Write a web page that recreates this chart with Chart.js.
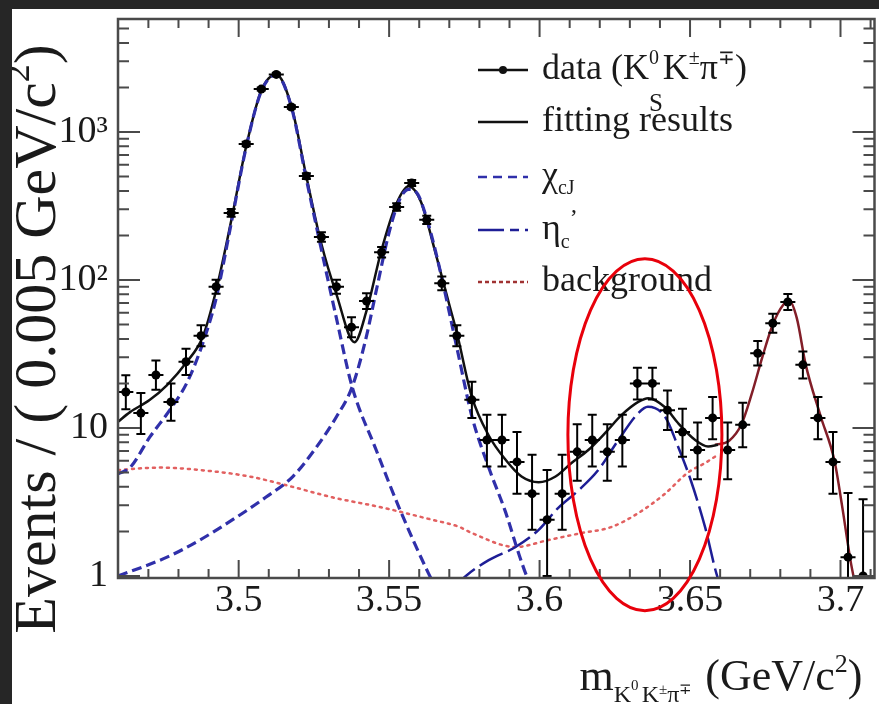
<!DOCTYPE html>
<html>
<head>
<meta charset="utf-8">
<script src="https://cdn.jsdelivr.net/npm/chart.js@4.4.0/dist/chart.umd.min.js"></script>
<style>
  html, body { margin: 0; padding: 0; background: #262626; }
  #wrap { position: absolute; left: 12px; top: 9px; width: 867px; height: 695px; background: #fff; }
</style>
</head>
<body>
<div id="wrap"><canvas id="massChart"></canvas></div>
<script>
const serif = '"Liberation Serif", "Times New Roman", serif';

// ticks
const xTickValues = [3.5, 3.55, 3.6, 3.65, 3.7];
const xTickLabels = ['3.5', '3.55', '3.6', '3.65', '3.7'];
const yTickValues = [1, 10, 100, 1000];
const yTickLabels = ['1', '10', '10²', '10³'];

// data, bins of 0.005 GeV
const binCenters = [3.4625, 3.4675, 3.4725, 3.4775, 3.4825, 3.4875, 3.4925, 3.4975, 3.5025, 3.5075,
  3.5125, 3.5175, 3.5225, 3.5275, 3.5325, 3.5375, 3.5425, 3.5475, 3.5525, 3.5575,
  3.5625, 3.5675, 3.5725, 3.5775, 3.5825, 3.5875, 3.5925, 3.5975, 3.6025, 3.6075,
  3.6125, 3.6175, 3.6225, 3.6275, 3.6325, 3.6375, 3.6425, 3.6475, 3.6525, 3.6575,
  3.6625, 3.6675, 3.6725, 3.6775, 3.6825, 3.6875, 3.6925, 3.6975, 3.7025, 3.7075];
const counts = [17.5, 12.6, 22.8, 15, 28, 42, 90, 284, 830, 1950,
  2450, 1475, 504, 195, 90, 48, 72, 154, 311, 452,
  255, 95, 42, 15.5, 8.3, 8.3, 5.9, 3.6, 2.4, 3.6,
  6.9, 8.3, 6.9, 8.3, 20, 20, 13.2, 9.4, 7.1, 11.7,
  7.1, 10.5, 32, 51, 71, 26.7, 11.7, 5.9, 1.34, 1.0];
const errUp = [5.2, 4.6, 5.8, 5.0, 6.3, 7.5, 10.5, 18, 30, 45,
  51, 39, 23, 15, 10.5, 8, 9.5, 13, 19, 22,
  17, 10.7, 7.5, 5.0, 4.0, 4.0, 3.5, 3.0, 2.8, 3.0,
  3.7, 4.0, 3.7, 4.0, 5.5, 5.5, 4.7, 4.1, 3.8, 4.5,
  3.8, 4.3, 6.7, 8.1, 9.4, 6.2, 4.5, 3.5, 2.3, 2.3];
const errDown = [4.1, 3.5, 4.7, 3.8, 5.2, 6.4, 9.4, 17, 29, 44,
  49, 38, 22, 14, 9.4, 6.9, 8.4, 12, 17, 21,
  16, 9.6, 6.4, 3.8, 2.8, 2.8, 2.3, 1.55, 1.4, 1.55,
  2.5, 2.8, 2.5, 2.8, 4.4, 4.4, 3.5, 3.0, 2.6, 3.3,
  2.6, 3.1, 5.6, 7.0, 8.3, 5.1, 3.3, 2.3, 0.9, 0.8];
const binHalf = 0.0025;

// fitting results
const fitX = [3.4599, 3.4639, 3.4705, 3.4762, 3.4828, 3.488, 3.4925, 3.4975, 3.5025, 3.5075,
  3.5125, 3.5175, 3.5225, 3.5275, 3.5325, 3.5385, 3.5425, 3.5475, 3.5525, 3.5565,
  3.5605, 3.5655, 3.570, 3.5725, 3.5775, 3.5831, 3.5887, 3.594, 3.5997, 3.6053,
  3.6106, 3.6162, 3.6219, 3.6272, 3.6328, 3.6361, 3.6417, 3.646, 3.6517, 3.656, 3.6593];
const fitY = [11, 12.8, 15.5, 19.5, 28, 41, 85, 250, 800, 1900,
  2450, 1500, 500, 175, 80, 38, 62, 160, 330, 430,
  340, 150, 68, 44, 16.2, 8.9, 6.1, 4.7, 4.3, 4.7,
  5.8, 7.1, 9.3, 12.2, 15, 15.9, 13.8, 10.8, 8.3, 7.5, 7.7];

// chi_c1 and chi_c2
const chiC1X = [3.4599, 3.4639, 3.4705, 3.4772, 3.4828, 3.488, 3.4925, 3.4975, 3.5025, 3.5075,
  3.5125, 3.5175, 3.5225, 3.5275, 3.5325, 3.5377, 3.5457, 3.5533, 3.563, 3.566];
const chiC1Y = [4.9, 5.4, 8.7, 13.3, 20.2, 37, 75, 240, 790, 1880,
  2430, 1480, 480, 160, 55, 19, 7.1, 2.9, 1.05, 0.8];
const chiC2X = [3.4599, 3.4762, 3.4871, 3.498, 3.509, 3.518, 3.5258, 3.5325, 3.5377, 3.542,
  3.546, 3.55, 3.5535, 3.5565, 3.5595, 3.5625, 3.566, 3.5725, 3.5775, 3.5831,
  3.5887, 3.593, 3.5957, 3.598];
const chiC2Y = [1.0, 1.34, 1.75, 2.4, 3.4, 4.7, 7.4, 11.9, 18.9, 38,
  90, 210, 350, 410, 380, 260, 140, 35, 12, 5.4,
  2.7, 1.43, 1.0, 0.8];

// eta_c'
const etaX = [3.572, 3.5755, 3.5831, 3.592, 3.5997, 3.6063, 3.613, 3.6195, 3.6262, 3.6328,
  3.636, 3.6417, 3.646, 3.6503, 3.655, 3.659, 3.661];
const etaY = [0.85, 1, 1.28, 1.57, 2.05, 2.9, 3.8, 5.2, 8.3, 12.6,
  13.9, 11.9, 7.5, 4.4, 2.14, 1, 0.8];

// background
const bkgX = [3.4599, 3.4738, 3.4871, 3.5036, 3.5179, 3.5311, 3.5477, 3.5642, 3.5732, 3.5775,
  3.592, 3.603, 3.6139, 3.6238, 3.6328, 3.6417, 3.6493, 3.655, 3.6583];
const bkgY = [5.2, 5.4, 5.2, 4.7, 4.0, 3.4, 2.9, 2.4, 2.15, 1.95,
  1.57, 1.75, 1.95, 2.14, 2.66, 3.6, 5.0, 5.8, 6.4];

// psi(3686) region of the fit
const psiX = [3.6583, 3.663, 3.667, 3.6705, 3.674, 3.6775, 3.681, 3.683, 3.6855, 3.6884,
  3.6934, 3.698, 3.7005, 3.7033, 3.705];
const psiY = [7.7, 8.2, 10.5, 17, 30, 50, 68, 72, 55, 27,
  12, 6, 3, 1.28, 0.85];

const ellipseCenter = { x: 3.635, y: 9 };

const axisColor = '#4a4a4a';
const chiColor = 'rgb(48,48,170)';
const etaColor = 'rgb(30,30,150)';
const bkgColor = 'rgb(226,96,96)';
const psiColor = 'rgb(130,30,40)';

function pts(xs, ys) { return xs.map((x, i) => ({ x: x, y: ys[i] })); }

function curve(xs, ys, color, width, dash, order) {
  return {
    type: 'line', data: pts(xs, ys), borderColor: color, borderWidth: width,
    borderDash: dash, pointRadius: 0, cubicInterpolationMode: 'monotone',
    fill: false, order: order, borderCapStyle: dash.length && dash[0] < 4 ? 'round' : 'butt'
  };
}

function drawRich(ctx, parts, x, y, measureOnly) {
  let start = x;
  for (const p of parts) {
    ctx.font = p.size + 'px ' + serif;
    let w = ctx.measureText(p.text).width;
    if (!measureOnly) ctx.fillText(p.text, x, y + (p.dy || 0));
    if (p.under) {
      ctx.font = p.under.size + 'px ' + serif;
      if (!measureOnly) ctx.fillText(p.under.text, x, y + p.under.dy);
      w = Math.max(w, ctx.measureText(p.under.text).width);
    }
    x += w + (p.gap || 0);
  }
  return x - start;
}

const decor = {
  id: 'decor',
  beforeDatasetDraw(chart, args) {
    if (args.index !== 0) return;
    const ctx = chart.ctx, xs = chart.scales.x, ys = chart.scales.y, a = chart.chartArea;
    ctx.save();
    ctx.beginPath(); ctx.rect(a.left, a.top, a.width, a.height); ctx.clip();
    ctx.strokeStyle = '#000'; ctx.lineWidth = 2;
    ctx.beginPath();
    binCenters.forEach((c, i) => {
      const px = xs.getPixelForValue(c);
      const py = ys.getPixelForValue(counts[i]);
      const top = ys.getPixelForValue(counts[i] + errUp[i]);
      const lowV = Math.max(counts[i] - errDown[i], 0.3);
      const bot = ys.getPixelForValue(lowV);
      ctx.moveTo(px, top); ctx.lineTo(px, bot);
      ctx.moveTo(px - 4.5, top); ctx.lineTo(px + 4.5, top);
      ctx.moveTo(px - 4.5, bot); ctx.lineTo(px + 4.5, bot);
      ctx.moveTo(xs.getPixelForValue(c - binHalf), py); ctx.lineTo(xs.getPixelForValue(c + binHalf), py);
    });
    ctx.stroke();
    ctx.restore();
  },
  afterDraw(chart) {
    const ctx = chart.ctx, xs = chart.scales.x, ys = chart.scales.y, a = chart.chartArea;
    ctx.save();
    // inward ticks on all four sides
    ctx.strokeStyle = axisColor; ctx.lineWidth = 2;
    ctx.beginPath();
    for (let k = 346; k <= 371; k++) {
      const px = xs.getPixelForValue(k / 100);
      if (px < a.left + 2 || px > a.right - 2) continue;
      const len = k % 5 === 0 ? 18 : 9;
      ctx.moveTo(px, a.bottom); ctx.lineTo(px, a.bottom - len);
      ctx.moveTo(px, a.top); ctx.lineTo(px, a.top + len);
    }
    for (let d = 0; d <= 3; d++) {
      for (let m = 1; m <= 9; m++) {
        const v = m * Math.pow(10, d);
        if (v > ys.max) continue;
        const py = ys.getPixelForValue(v);
        const len = m === 1 ? 22 : 11;
        ctx.moveTo(a.left, py); ctx.lineTo(a.left + len, py);
        ctx.moveTo(a.right, py); ctx.lineTo(a.right - len, py);
      }
    }
    ctx.stroke();
    ctx.lineWidth = 2.5;
    ctx.strokeRect(a.left, a.top, a.width, a.height);

    // legend
    const lx0 = 466, lx1 = 516, tx = 530;
    const rows = [61, 113, 168, 221, 273];
    ctx.lineWidth = 2.5;
    ctx.strokeStyle = '#111'; ctx.setLineDash([]);
    ctx.beginPath(); ctx.moveTo(lx0, rows[0]); ctx.lineTo(lx1, rows[0]); ctx.stroke();
    ctx.fillStyle = '#111';
    ctx.beginPath(); ctx.arc((lx0 + lx1) / 2, rows[0], 4, 0, Math.PI * 2); ctx.fill();
    ctx.beginPath(); ctx.moveTo(lx0, rows[1]); ctx.lineTo(lx1, rows[1]); ctx.stroke();
    ctx.strokeStyle = chiColor; ctx.setLineDash([9, 6]);
    ctx.beginPath(); ctx.moveTo(lx0, rows[2]); ctx.lineTo(lx1, rows[2]); ctx.stroke();
    ctx.strokeStyle = etaColor; ctx.setLineDash([26, 6, 9, 6]);
    ctx.beginPath(); ctx.moveTo(lx0, rows[3]); ctx.lineTo(lx1, rows[3]); ctx.stroke();
    ctx.strokeStyle = 'rgb(160,50,50)'; ctx.setLineDash([4, 3]);
    ctx.beginPath(); ctx.moveTo(lx0, rows[4]); ctx.lineTo(lx1, rows[4]); ctx.stroke();
    ctx.setLineDash([]);

    ctx.fillStyle = '#1a1a1a';
    ctx.textBaseline = 'alphabetic'; ctx.textAlign = 'left';
    drawRich(ctx, [
      { text: 'data (K', size: 36 },
      { text: '0', size: 20, dy: -15, under: { text: 'S', size: 25, dy: 32 } },
      { text: 'K', size: 36 },
      { text: '±', size: 20, dy: -15 },
      { text: 'π', size: 36 },
      { text: '∓', size: 20, dy: -15 },
      { text: ')', size: 36 }
    ], tx, rows[0] + 9);
    drawRich(ctx, [{ text: 'fitting results', size: 36 }], tx, rows[1] + 9);
    drawRich(ctx, [{ text: 'χ', size: 36 }, { text: 'cJ', size: 20, dy: 8 }], tx, rows[2] + 9);
    drawRich(ctx, [{ text: 'η', size: 36 }, { text: 'c', size: 20, dy: 9 }, { text: '’', size: 24, dy: -14 }], tx, rows[3] + 9);
    drawRich(ctx, [{ text: 'background', size: 36 }], tx, rows[4] + 9);

    // x axis title
    const xParts = [
      { text: 'm', size: 44 },
      { text: 'K', size: 24, dy: 12 },
      { text: '0', size: 15, dy: 0, under: { text: 'S', size: 19, dy: 27 } },
      { text: 'K', size: 24, dy: 12 },
      { text: '±', size: 15, dy: 4 },
      { text: 'π', size: 24, dy: 12 },
      { text: '∓', size: 15, dy: 4, gap: 2 },
      { text: ' (GeV/c', size: 44 },
      { text: '2', size: 26, dy: -18 },
      { text: ')', size: 44 }
    ];
    const xw = drawRich(ctx, xParts, 0, 0, true);
    drawRich(ctx, xParts, a.right - 12 - xw, 681);

    // y axis title
    ctx.save();
    ctx.translate(27, 330);
    ctx.rotate(-Math.PI / 2);
    ctx.textBaseline = 'middle';
    const yParts = [
      { text: 'Events / ( 0.005 GeV/c', size: 60 },
      { text: '2', size: 36, dy: -19 },
      { text: ')', size: 60 }
    ];
    const yw = drawRich(ctx, yParts, 0, 0, true);
    drawRich(ctx, yParts, -yw / 2, 0);
    ctx.restore();

    // red ellipse
    ctx.strokeStyle = '#e8000b'; ctx.lineWidth = 3;
    ctx.beginPath();
    ctx.ellipse(xs.getPixelForValue(ellipseCenter.x), ys.getPixelForValue(ellipseCenter.y), 77, 176, 0, 0, Math.PI * 2);
    ctx.stroke();
    ctx.restore();
  }
};

new Chart(document.getElementById('massChart'), {
  type: 'scatter',
  data: {
    datasets: [
      {
        label: 'data', data: pts(binCenters, counts), order: 0,
        pointRadius: 4.5, pointBackgroundColor: '#000', pointBorderColor: '#000', pointBorderWidth: 0,
        showLine: false
      },
      curve(chiC1X, chiC1Y, chiColor, 3.2, [10, 5], 1),
      curve(chiC2X, chiC2Y, chiColor, 3.2, [10, 5], 1),
      curve(fitX, fitY, '#111', 2.5, [], 2),
      curve(psiX, psiY, psiColor, 2.5, [], 2),
      curve(etaX, etaY, etaColor, 2.5, [26, 6], 3),
      curve(bkgX, bkgY, bkgColor, 2.5, [2, 5], 4)
    ]
  },
  options: {
    animation: false,
    responsive: true,
    maintainAspectRatio: false,
    devicePixelRatio: 1,
    layout: { padding: { top: 10, right: 2, left: 0, bottom: 0 } },
    plugins: { legend: { display: false }, tooltip: { enabled: false } },
    scales: {
      x: {
        type: 'linear', min: 3.4599, max: 3.7113,
        grid: { display: false, drawTicks: false }, border: { display: false },
        afterBuildTicks: s => { s.ticks = xTickValues.map(v => ({ value: v })); },
        afterFit: s => { s.height = 126; s.paddingLeft = 0; s.paddingRight = 0; },
        ticks: {
          font: { family: serif, size: 38 }, color: '#1a1a1a', padding: 0,
          maxRotation: 0, autoSkip: false,
          callback: (v, i) => xTickLabels[i]
        }
      },
      y: {
        type: 'logarithmic', min: 0.969, max: 5800,
        grid: { display: false, drawTicks: false }, border: { display: false },
        afterBuildTicks: s => { s.ticks = yTickValues.map(v => ({ value: v })); },
        afterFit: s => { s.width = 106; s.paddingTop = 0; s.paddingBottom = 0; },
        ticks: {
          font: { family: serif, size: 38 }, color: '#1a1a1a', padding: 10,
          autoSkip: false,
          callback: (v, i) => yTickLabels[i]
        }
      }
    }
  },
  plugins: [decor]
});
</script>
</body>
</html>
